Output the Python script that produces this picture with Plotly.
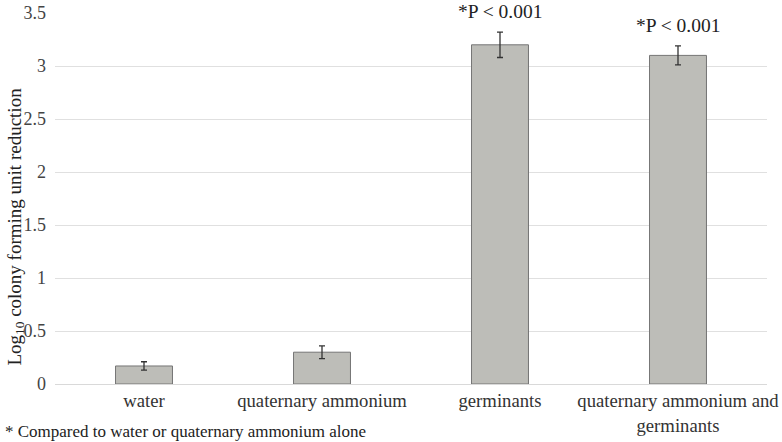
import plotly.graph_objects as go

categories = ["water", "quaternary ammonium", "germinants", "quaternary ammonium and<br>germinants"]
values = [0.17, 0.30, 3.20, 3.10]
errors = [0.04, 0.06, 0.12, 0.09]
annotations_text = ["", "", "*P < 0.001", "*P < 0.001"]
y_ticks = [0, 0.5, 1, 1.5, 2, 2.5, 3, 3.5]
y_ticklabels = ["0", "0.5", "1", "1.5", "2", "2.5", "3", "3.5"]

FONT = "Times New Roman, Liberation Serif, DejaVu Serif, serif"

fig = go.Figure()
fig.add_trace(go.Bar(
    x=categories, y=values,
    marker=dict(color="#bdbdb8", line=dict(color="#757575", width=1)),
    error_y=dict(type="data", array=errors, visible=True, color="#333333", thickness=1.3, width=3),
    width=0.32,
))

for c, v, e, t in zip(categories, values, errors, annotations_text):
    if t:
        fig.add_annotation(x=c, y=v + e + 0.075, text=t, showarrow=False, yanchor="bottom",
                           font=dict(family=FONT, size=19.5, color="#222222"))

fig.add_annotation(x=0, xref="paper", xanchor="left", xshift=-52, y=0, yref="paper", yshift=-36,
                   yanchor="top", text="* Compared to water or quaternary ammonium alone",
                   showarrow=False, font=dict(family=FONT, size=17, color="#222222"))

# y-axis title as rotated annotation
fig.add_annotation(x=0, xref="paper", xanchor="center", xshift=-40, y=0.5, yref="paper",
                   yanchor="middle", yshift=-28, textangle=-90, showarrow=False,
                   text="Log<sub>10</sub> colony forming unit reduction",
                   font=dict(family=FONT, size=19, color="#222222"))

fig.update_layout(
    width=782, height=442,
    margin=dict(l=55, r=15, t=13, b=58, autoexpand=False),
    plot_bgcolor="white", paper_bgcolor="white",
    font=dict(family=FONT, size=17, color="#333333"),
    showlegend=False,
    bargap=0.68,
)
fig.update_xaxes(showgrid=False, showline=True, linecolor="#d9d9d9", linewidth=1, automargin=False,
                 ticks="", tickfont=dict(family=FONT, size=18.7, color="#333333"))
fig.update_yaxes(range=[0, 3.5], tickvals=y_ticks, ticktext=y_ticklabels, automargin=False,
                 showgrid=True, gridcolor="#e0e0e0", gridwidth=1, zeroline=False,
                 ticks="", ticklabelstandoff=8, tickfont=dict(family=FONT, size=18, color="#444444"))

fig.write_html("out.html", config={"displayModeBar": False},
               post_script="document.body.style.margin='0';")
